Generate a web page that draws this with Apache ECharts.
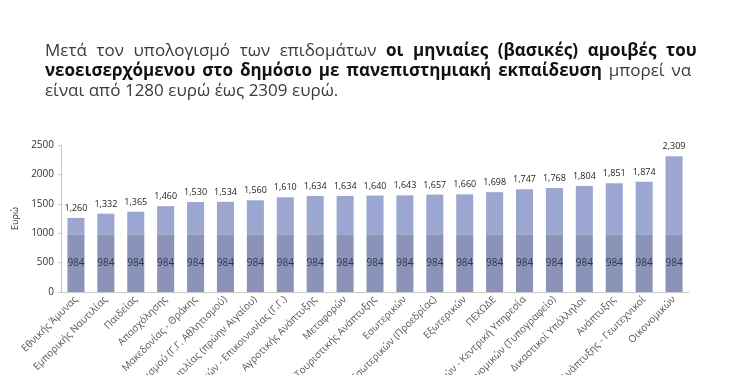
<!DOCTYPE html>
<html>
<head>
<meta charset="utf-8">
<script src="https://cdn.jsdelivr.net/npm/echarts@6/dist/echarts.min.js"></script>
<style>
  html, body { margin: 0; padding: 0; background: #fff; }
  #chart { width: 750px; height: 375px; }
</style>
</head>
<body>
<div id="chart"></div>
<script>
// Υπουργεία / φορείς
const categories = [
  'Εθνικής Άμυνας', 'Εμπορικής Ναυτιλίας', 'Παιδείας', 'Απασχόλησης',
  'Μακεδονίας - Θράκης', 'Πολιτισμού (Γ.Γ. Αθλητισμού)', 'Ναυτιλίας (πρώην Αιγαίου)',
  'Μεταφορών - Επικοινωνίας (Γ.Γ.)', 'Αγροτικής Ανάπτυξης', 'Μεταφορών',
  'Τουριστικής Ανάπτυξης', 'Εσωτερικών', 'Εσωτερικών (Προεδρίας)', 'Εξωτερικών',
  'ΠΕΧΩΔΕ', 'Οικονομικών - Κεντρική Υπηρεσία', 'Οικονομικών (Τυπογραφείο)',
  'Δικαστικοί Υπάλληλοι', 'Ανάπτυξης', 'Αγροτικής Ανάπτυξης - Γεωτεχνικοί', 'Οικονομικών'
];
// βασικός μισθός
const baseValues = [984, 984, 984, 984, 984, 984, 984, 984, 984, 984, 984,
  984, 984, 984, 984, 984, 984, 984, 984, 984, 984];
// σύνολο με επιδόματα
const totalValues = [1260, 1332, 1365, 1460, 1530, 1534, 1560, 1610, 1634, 1634, 1640,
  1643, 1657, 1660, 1698, 1747, 1768, 1804, 1851, 1874, 2309];
const yTicks = [0, 500, 1000, 1500, 2000, 2500];

const extraValues = totalValues.map((t, i) => t - baseValues[i]);

// το κείμενο είναι στοιχισμένο (justify), οπότε τα κενά μεγαλώνουν ανά γραμμή
const line1 = [['n', 'Μετά τον υπολογισμό των επιδομάτων'], ['b', 'οι μηνιαίες (βασικές) αμοιβές του']];
const line2 = [['b', 'νεοεισερχόμενου στο δημόσιο με πανεπιστημιακή εκπαίδευση'], ['n', 'μπορεί να']];
const line3 = [['n', 'είναι από 1280 ευρώ έως 2309 ευρώ.']];

function richLine(parts, gap) {
  let words = [];
  parts.forEach(([style, txt]) => txt.split(' ').forEach(w => words.push('{' + style + '|' + w + '}')));
  return words.join('{' + gap + '| }');
}

const chart = echarts.init(document.getElementById('chart'));
chart.setOption({
  animation: false,
  title: {
    left: 40,
    top: 36,
    text: richLine(line1, 's1') + '\n' + richLine(line2, 's2') + '\n' + richLine(line3, 's3'),
    textStyle: {
      fontWeight: 'normal',
      rich: {
        n: { fontFamily: 'Open Sans', fontSize: 17, fontWeight: 'normal', color: '#3a3a3a', lineHeight: 20 },
        b: { fontFamily: 'Open Sans', fontSize: 17, fontWeight: 'bold', color: '#111', lineHeight: 20 },
        s1: { fontSize: 17, width: 9.6, lineHeight: 20 },
        s2: { fontSize: 17, width: 6.9, lineHeight: 20 },
        s3: { fontSize: 17, width: 4.5, lineHeight: 20 }
      }
    }
  },
  grid: { left: 61, right: 61, top: 145, bottom: 83, outerBoundsMode: 'none' },
  xAxis: {
    type: 'category',
    data: categories,
    axisLine: { lineStyle: { color: '#c8c8c8' } },
    axisTick: { show: false },
    axisLabel: {
      rotate: 45, interval: 0, fontSize: 10, color: '#555',
      fontFamily: 'Open Sans', margin: 6
    }
  },
  yAxis: {
    type: 'value',
    min: 0, max: 2500, interval: 500,
    name: 'Ευρώ',
    nameLocation: 'middle',
    nameGap: 40,
    nameTextStyle: { fontSize: 9, color: '#333', fontFamily: 'Open Sans' },
    axisLine: { show: true, lineStyle: { color: '#c8c8c8' } },
    axisTick: { show: true, length: 3, lineStyle: { color: '#c8c8c8' } },
    splitLine: { show: false },
    axisLabel: {
      fontSize: 10, color: '#333', fontFamily: 'Open Sans', margin: 7,
      formatter: v => yTicks.includes(v) ? String(v) : ''
    }
  },
  series: [
    {
      type: 'bar', stack: 'a', data: baseValues, barWidth: '57%',
      itemStyle: { color: '#8b94b8' },
      label: { show: true, position: 'inside', fontSize: 10, color: '#2e3550', fontFamily: 'Open Sans' }
    },
    {
      type: 'bar', stack: 'a', data: extraValues,
      itemStyle: { color: '#9ba7d1' },
      label: {
        show: true, position: 'top', fontSize: 9, color: '#222', fontFamily: 'Open Sans',
        formatter: p => totalValues[p.dataIndex].toLocaleString('en-US')
      }
    }
  ]
});
</script>
</body>
</html>
